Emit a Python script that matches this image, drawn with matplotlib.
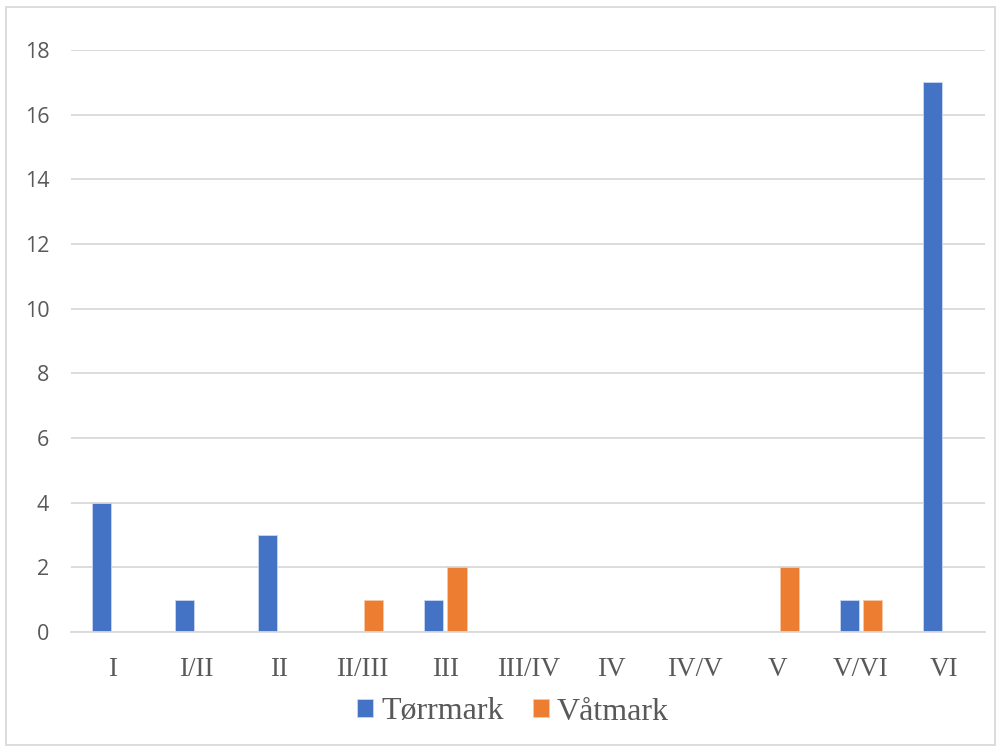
import matplotlib.pyplot as plt
import numpy as np
from matplotlib.patches import Rectangle

categories = ['I', 'I/II', 'II', 'II/III', 'III', 'III/IV', 'IV', 'IV/V', 'V', 'V/VI', 'VI']
torrmark = [4, 1, 3, 0, 1, 0, 0, 0, 0, 1, 17]
vatmark = [0, 0, 0, 1, 2, 0, 0, 0, 2, 1, 0]

blue = '#4472C4'
orange = '#ED7D31'
txt = '#595959'
grid = '#D9D9D9'

fig = plt.figure(figsize=(10.01, 7.49), dpi=100)
ax = fig.add_axes([0.0714, 0.1562, 0.913, 0.777])

x = np.arange(len(categories))
w = 0.23
off = 0.14
ax.bar(x - off, torrmark, w, color=blue, edgecolor='#c9d6f0', linewidth=0.6, label='Tørrmark', zorder=3)
ax.bar(x + off, vatmark, w, color=orange, edgecolor='#f7c9a8', linewidth=0.6, label='Våtmark', zorder=3)

ax.set_xlim(-0.5, len(categories) - 0.5)
ax.set_ylim(0, 18)
ax.set_yticks(range(0, 19, 2))
ax.set_xticks(x)
ax.set_xticklabels(categories, family='Liberation Serif', fontsize=19.5, color=txt)
for lab in ax.get_yticklabels():
    lab.set_family('Open Sans')
    lab.set_fontsize(15.5)
    lab.set_color(txt)
ax.tick_params(axis='both', length=0)
ax.tick_params(axis='x', pad=18)
ax.tick_params(axis='y', pad=16)
ax.grid(axis='y', color=grid, linewidth=1.3, zorder=0)
for s in ['top', 'right', 'left']:
    ax.spines[s].set_visible(False)
ax.spines['bottom'].set_color(grid)
ax.spines['bottom'].set_linewidth(1.3)
ax.spines['bottom'].set_zorder(4)

fig.legend(loc='center', bbox_to_anchor=(513 / 1001, 1 - 712 / 749), ncol=2, frameon=False,
           prop={'family': 'Liberation Serif', 'size': 23}, labelcolor=txt,
           handlelength=0.5, handleheight=0.5, handletextpad=0.25, columnspacing=0.9)

fig.patches.append(Rectangle((6 / 1001, 4 / 749), 989 / 1001, 738 / 749, transform=fig.transFigure,
                             fill=False, edgecolor=grid, linewidth=1.3))

fig.savefig('out.png', dpi=100)
